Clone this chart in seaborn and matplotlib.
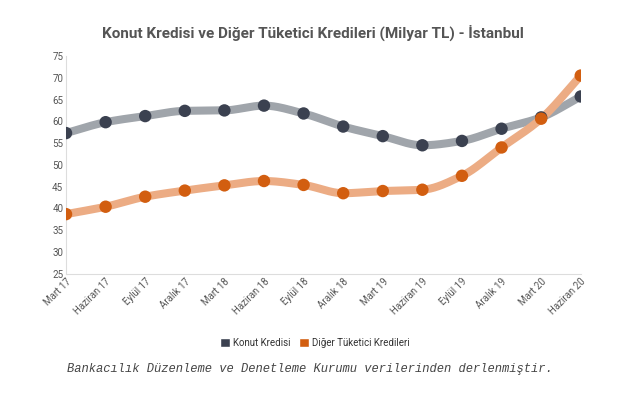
import numpy as np
import pandas as pd
import matplotlib
matplotlib.use("Agg")
import matplotlib.pyplot as plt
import seaborn as sns
from matplotlib.patches import Patch

donemler = ["Mart 17", "Haziran 17", "Eylül 17", "Aralık 17", "Mart 18", "Haziran 18",
            "Eylül 18", "Aralık 18", "Mart 19", "Haziran 19", "Eylül 19", "Aralık 19",
            "Mart 20", "Haziran 20"]
konut = [57.3, 59.8, 61.2, 62.4, 62.5, 63.6, 61.8, 58.8, 56.6, 54.5, 55.5, 58.3, 60.9, 65.7]
diger = [38.7, 40.4, 42.7, 44.1, 45.3, 46.3, 45.4, 43.5, 44.0, 44.3, 47.5, 54.0, 60.6, 70.5]
y_ticks = list(range(25, 80, 5))

sns.set_theme(style="white")
plt.rcParams["font.family"] = ["Roboto", "DejaVu Sans"]


def smooth(x, y, n=20):
    # monotone cubic (Fritsch-Carlson) just for drawing the curved line
    x = np.asarray(x, float)
    y = np.asarray(y, float)
    h = np.diff(x)
    d = np.diff(y) / h
    m = np.zeros_like(y)
    m[0], m[-1] = d[0], d[-1]
    for i in range(1, len(y) - 1):
        if d[i - 1] * d[i] > 0:
            m[i] = 2 / (1 / d[i - 1] + 1 / d[i])
    xs, ys = [], []
    for i in range(len(x) - 1):
        t = np.linspace(0, 1, n, endpoint=False)
        h00 = 2 * t**3 - 3 * t**2 + 1
        h10 = t**3 - 2 * t**2 + t
        h01 = -2 * t**3 + 3 * t**2
        h11 = t**3 - t**2
        xs.append(x[i] + t * h[i])
        ys.append(h00 * y[i] + h10 * h[i] * m[i] + h01 * y[i + 1] + h11 * h[i] * m[i + 1])
    xs.append([x[-1]])
    ys.append([y[-1]])
    return np.concatenate(xs), np.concatenate(ys)


df = pd.DataFrame({"i": np.arange(len(donemler)), "Konut Kredisi": konut,
                   "Diğer Tüketici Kredileri": diger})

fig = plt.figure(figsize=(6.41, 3.94), dpi=100)
ax = fig.add_axes([0.103, 0.305, 0.803, 0.553])

series = [("Konut Kredisi", "#a0a5ab", "#3b4150"),
          ("Diğer Tüketici Kredileri", "#ecac84", "#d25e10")]
for name, lc, mc in series:
    sx, sy = smooth(df["i"], df[name])
    ax.plot(sx, sy, color=lc, lw=5.8, solid_capstyle="round", zorder=2)
for name, lc, mc in series:
    sns.scatterplot(x="i", y=name, data=df, ax=ax, color=mc, s=80,
                    edgecolor="none", zorder=3, legend=False)

ax.set_xlim(0, len(donemler) - 1)
ax.set_ylim(25, 75)
ax.set_yticks(y_ticks)
ax.set_xticks(df["i"])
ax.set_xticklabels(donemler, rotation=45, ha="right", rotation_mode="anchor")
ax.tick_params(axis="both", labelsize=7, colors="#555555", length=0, pad=2)
ax.set_xlabel("")
ax.set_ylabel("")
for s in ["top", "right"]:
    ax.spines[s].set_visible(False)
for s in ["left", "bottom"]:
    ax.spines[s].set_color("#dddddd")
    ax.spines[s].set_linewidth(0.8)

fig.text(0.488, 0.916, "Konut Kredisi ve Diğer Tüketici Kredileri (Milyar TL) - İstanbul",
         ha="center", va="center", fontsize=11, fontweight="bold", color="#555555")

handles = [Patch(facecolor="#3b4150", label="Konut Kredisi"),
           Patch(facecolor="#d25e10", label="Diğer Tüketici Kredileri")]
fig.legend(handles=handles, loc="center", bbox_to_anchor=(0.491, 0.13), ncol=2,
           frameon=False, fontsize=7, handlelength=1.1, handleheight=1.1,
           handletextpad=0.3, columnspacing=0.8, labelcolor="#333333")

fig.text(0.484, 0.063, "Bankacılık Düzenleme ve Denetleme Kurumu verilerinden derlenmiştir.",
         ha="center", va="center", fontsize=8.7, style="italic", color="#444444",
         family=["Liberation Mono", "DejaVu Sans Mono"])

fig.savefig("out.png", dpi=100)
